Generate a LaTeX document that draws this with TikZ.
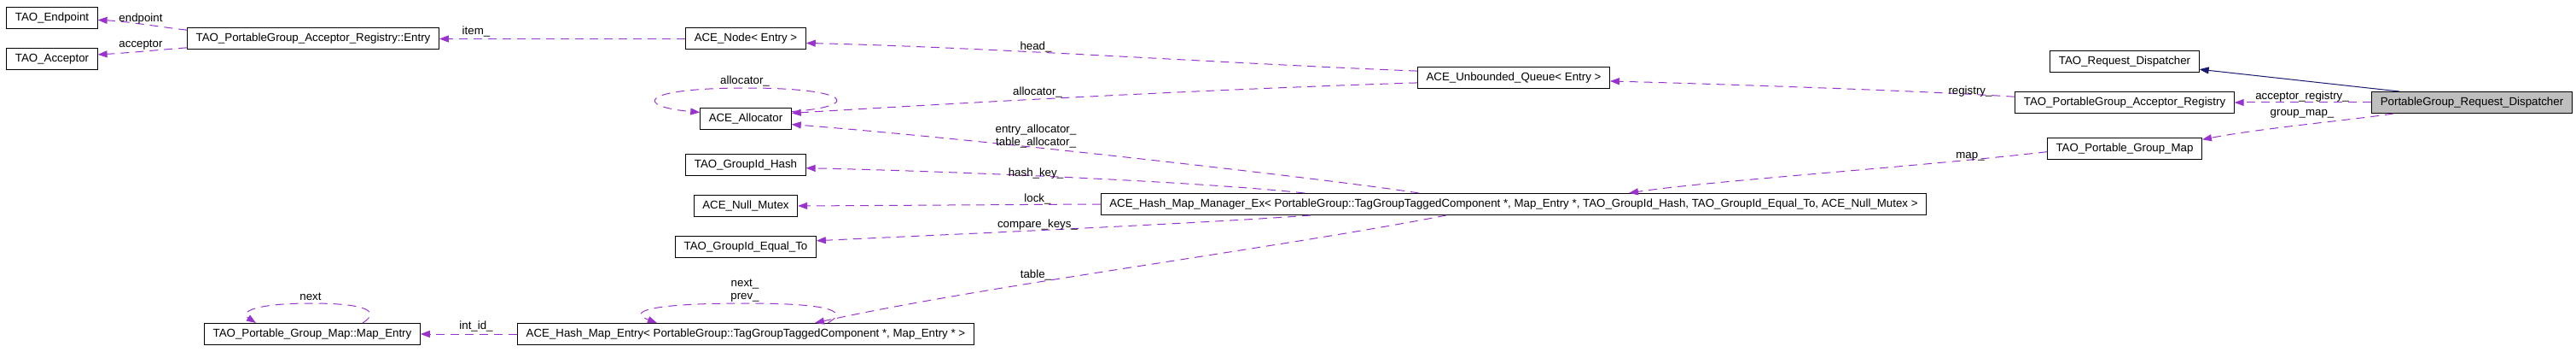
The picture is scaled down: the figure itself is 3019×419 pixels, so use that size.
\documentclass[tikz,border=0pt]{standalone}
\usepackage{fontspec}
\setmainfont{Liberation Sans}
\usepackage{tikz}
\usetikzlibrary{arrows.meta}
\definecolor{edgepurple}{HTML}{9A32CD}
\definecolor{edgenavy}{HTML}{191970}
\definecolor{mainfill}{HTML}{BFBFBF}

\begin{document}
\begin{tikzpicture}[
		x=1pt, y=-1pt,
		font=\fontsize{13.3}{15}\selectfont,
		cls/.style={draw=black, line width=1pt, fill=white,
			inner xsep=10pt, inner ysep=6pt, text height=10pt, text depth=3pt},
		member/.style={draw=edgepurple, line width=1pt, dash pattern=on 10pt off 7pt,
			-{Triangle[length=11pt, width=8pt, fill=edgepurple]}},
		inherit/.style={draw=edgenavy, line width=1pt,
			-{Triangle[length=11pt, width=8pt, fill=edgenavy]}},
		lbl/.style={inner sep=1pt, align=center}
	]
	\useasboundingbox (0,0) rectangle (3019,419);
	
	\node[cls] (endp) at (61,21.5) {TAO\_Endpoint};
	\node[cls] (tacc) at (61,69.5) {TAO\_Acceptor};
	\node[cls] (entry) at (367,45.5) {TAO\_PortableGroup\_Acceptor\_Registry::Entry};
	\node[cls] (anode) at (874,45.5) {ACE\_Node< Entry >};
	\node[cls] (alloc) at (874,139) {ACE\_Allocator};
	\node[cls] (ghash) at (874,193) {TAO\_GroupId\_Hash};
	\node[cls] (mutex) at (874,241) {ACE\_Null\_Mutex};
	\node[cls] (equalto) at (874,289) {TAO\_GroupId\_Equal\_To};
	\node[cls] (mapentry) at (366,391) {TAO\_Portable\_Group\_Map::Map\_Entry};
	\node[cls] (hmentry) at (874,391)
		{ACE\_Hash\_Map\_Entry< PortableGroup::TagGroupTaggedComponent *, Map\_Entry * >};
	\node[cls] (manager) at (1774,239)
		{ACE\_Hash\_Map\_Manager\_Ex< PortableGroup::TagGroupTaggedComponent *, Map\_Entry *, TAO\_GroupId\_Hash, TAO\_GroupId\_Equal\_To, ACE\_Null\_Mutex >};
	\node[cls] (queue) at (1774,91) {ACE\_Unbounded\_Queue< Entry >};
	\node[cls] (reqdisp) at (2490,72) {TAO\_Request\_Dispatcher};
	\node[cls] (registry) at (2490,120) {TAO\_PortableGroup\_Acceptor\_Registry};
	\node[cls] (gmap) at (2490,174.5) {TAO\_Portable\_Group\_Map};
	\node[cls, fill=mainfill] (pgdisp) at (2897,120) {PortableGroup\_Request\_Dispatcher};
	
	\draw[member]
		(entry.176) .. controls (190,32) and (150,25) .. (endp.-2);
	\node[lbl] (l_endp) at (165,22) {endpoint};
	
	\draw[member]
		(entry.184) .. controls (190,58) and (150,62) .. (tacc.6);
	\node[lbl] (l_tacc) at (165,53) {acceptor};
	
	\draw[member]
		(anode.west) -- (entry.east);
	\node[lbl] (l_item) at (558,37) {item\_};
	
	\draw[member]
		(queue.176) .. controls (1450,75) and (1150,55) .. (anode.-4);
	\node[lbl] (l_head) at (1214,55) {head\_};
	
	\draw[member]
		(queue.183) .. controls (1400,105) and (1100,122) .. (alloc.7);
	\node[lbl] (l_qalloc) at (1216,108) {allocator\_};
	
	\draw[member]
		(alloc.9) .. controls (1010,125) and (1000,103) .. (875,103)
		.. controls (745,103) and (745,125) .. (alloc.172);
	\node[lbl] (l_self) at (873,95) {allocator\_};
	
	\draw[member]
		([xshift=-111pt]manager.north) .. controls (1560,210) and (1150,163) .. (alloc.-7);
	\node[lbl] (l_malloc) at (1214,160) {entry\_allocator\_\\table\_allocator\_};
	
	\draw[member]
		([xshift=-245pt]manager.north) .. controls (1400,212) and (1100,200) .. (ghash.-3);
	\node[lbl] (l_hash) at (1214,203) {hash\_key\_};
	
	\draw[member]
		(manager.west) -- (mutex.east);
	\node[lbl] (l_lock) at (1216,233) {lock\_};
	
	\draw[member]
		([xshift=-238pt]manager.south) .. controls (1400,262) and (1100,275) .. (equalto.5);
	\node[lbl] (l_cmp) at (1216,263) {compare\_keys\_};
	
	\draw[member]
		([xshift=-79pt]manager.south) .. controls (1500,290) and (1150,335) .. ([xshift=81pt]hmentry.north);
	\node[lbl] (l_table) at (1214,322) {table\_};
	
	\draw[member]
		([xshift=96pt]hmentry.north) .. controls (1000,362) and (960,355) .. (873,355)
		.. controls (760,355) and (735,365) .. ([xshift=-104pt]hmentry.north);
	\node[lbl] (l_nextprev) at (873,340) {next\_\\prev\_};
	
	\draw[member]
		([xshift=59pt]mapentry.north) .. controls (450,362) and (420,355) .. (364,355)
		.. controls (300,355) and (280,365) .. ([xshift=-66pt]mapentry.north);
	\node[lbl] (l_next) at (364,347) {next};
	
	\draw[member]
		(hmentry.west) -- (mapentry.east);
	\node[lbl] (l_intid) at (558,382) {int\_id\_};
	
	\draw[member]
		(registry.177) .. controls (2250,106) and (2000,98) .. (queue.-2);
	\node[lbl] (l_reg) at (2309,107) {registry\_};
	
	\draw[member]
		(gmap.182) .. controls (2250,195) and (2000,212) .. ([xshift=135pt]manager.north);
	\node[lbl] (l_map) at (2309,183) {map\_};
	
	\draw[member]
		(pgdisp.west) -- (registry.east);
	\node[lbl] (l_accreg) at (2698,113) {acceptor\_registry\_};
	
	\draw[member]
		([xshift=-92pt]pgdisp.south) .. controls (2760,140) and (2650,150) .. (gmap.7);
	\node[lbl] (l_gmap) at (2698,133) {group\_map\_};
	
	\draw[inherit]
		([xshift=-85pt]pgdisp.north) -- (reqdisp.-6);
\end{tikzpicture}
\end{document}
